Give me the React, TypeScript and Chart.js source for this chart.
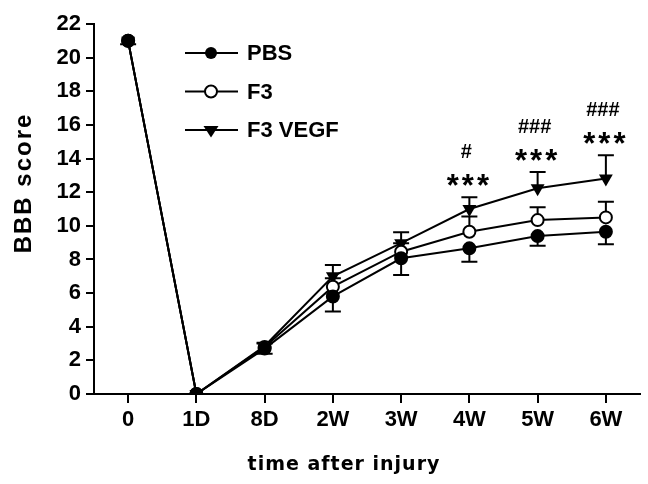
import React, { useEffect, useRef } from "react";
import { Chart, registerables } from "chart.js";

Chart.register(...registerables);

const categories = ["0", "1D", "8D", "2W", "3W", "4W", "5W", "6W"];
const pbsValues = [21, 0, 2.7, 5.8, 8.07, 8.66, 9.39, 9.65];
const f3Values = [21, 0, 2.8, 6.38, 8.46, 9.65, 10.34, 10.5];
const vegfValues = [21, 0, 2.85, 7.0, 8.97, 11.0, 12.23, 12.82];
const pbsErr = [0.2, 0, 0.3, 0.9, 1.0, 0.8, 0.57, 0.75];
const f3Err = [0, 0, 0.2, 0.5, 0.5, 0.9, 0.76, 0.93];
const vegfErr = [0, 0, 0.2, 0.67, 0.65, 0.7, 0.97, 1.38];
const starLabels = ["", "", "", "", "", "***", "***", "***"];
const hashLabels = ["", "", "", "", "", "#", "###", "###"];
const seriesNames = ["PBS", "F3", "F3 VEGF"];
const yMin = 0;
const yMax = 22;
const yStep = 2;

const FONT = '"Liberation Sans", Arial, sans-serif';

function drawMarker(ctx: CanvasRenderingContext2D, kind: number, x: number, y: number) {
  ctx.save();
  ctx.lineWidth = 2;
  ctx.strokeStyle = "#000";
  if (kind === 0) {
    ctx.beginPath();
    ctx.arc(x, y, 6, 0, Math.PI * 2);
    ctx.fillStyle = "#000";
    ctx.fill();
  } else if (kind === 1) {
    ctx.beginPath();
    ctx.arc(x, y, 6, 0, Math.PI * 2);
    ctx.fillStyle = "#fff";
    ctx.fill();
    ctx.stroke();
  } else {
    const r = 7.5;
    ctx.beginPath();
    ctx.moveTo(x - r, y - r * 0.55);
    ctx.lineTo(x + r, y - r * 0.55);
    ctx.lineTo(x, y + r);
    ctx.closePath();
    ctx.fillStyle = "#000";
    ctx.fill();
  }
  ctx.restore();
}

const overlayPlugin = {
  id: "overlay",
  beforeDatasetsDraw(chart: any) {
    const ctx: CanvasRenderingContext2D = chart.ctx;
    const xs = chart.scales.x;
    const ys = chart.scales.y;
    const sets = [
      { v: pbsValues, e: pbsErr, dir: 1 },
      { v: f3Values, e: f3Err, dir: -1 },
      { v: vegfValues, e: vegfErr, dir: -1 },
    ];
    ctx.save();
    ctx.strokeStyle = "#000";
    ctx.lineWidth = 2;
    sets.forEach((s) => {
      s.v.forEach((val, i) => {
        if (!s.e[i]) return;
        const x = xs.getPixelForValue(i);
        const y0 = ys.getPixelForValue(val);
        const y1 = ys.getPixelForValue(val - s.dir * s.e[i]);
        ctx.beginPath();
        ctx.moveTo(x, y0);
        ctx.lineTo(x, y1);
        ctx.moveTo(x - 8, y1);
        ctx.lineTo(x + 8, y1);
        ctx.stroke();
      });
    });
    ctx.restore();
  },
  afterDraw(chart: any) {
    const ctx: CanvasRenderingContext2D = chart.ctx;
    const xs = chart.scales.x;
    const ys = chart.scales.y;
    ctx.save();
    // legend
    const rows = [53, 91.5, 130];
    seriesNames.forEach((name, k) => {
      const y = rows[k];
      ctx.strokeStyle = "#000";
      ctx.lineWidth = 2;
      ctx.beginPath();
      ctx.moveTo(185, y);
      ctx.lineTo(238, y);
      ctx.stroke();
      drawMarker(ctx, k, 211, y);
      ctx.fillStyle = "#000";
      ctx.font = `bold 22px ${FONT}`;
      ctx.textAlign = "left";
      ctx.textBaseline = "middle";
      ctx.fillText(name, 247, y + 1);
    });
    // significance marks
    categories.forEach((_, i) => {
      if (!starLabels[i]) return;
      const x = xs.getPixelForValue(i);
      const capY = ys.getPixelForValue(vegfValues[i] + vegfErr[i]);
      const base = capY - 1;
      ctx.fillStyle = "#000";
      ctx.textAlign = "center";
      ctx.textBaseline = "alphabetic";
      ctx.font = `bold 31px ${FONT}`;
      (ctx as any).letterSpacing = "3px";
      ctx.fillText(starLabels[i], x, base);
      ctx.font = `bold 20px ${FONT}`;
      (ctx as any).letterSpacing = "0px";
      ctx.fillText(hashLabels[i], x - 3, base - 38);
    });
    // axis titles
    ctx.fillStyle = "#000";
    ctx.font = `bold 19px "DejaVu Sans", sans-serif`;
    ctx.textAlign = "center";
    ctx.textBaseline = "middle";
    (ctx as any).letterSpacing = "1px";
    ctx.fillText("time after injury", 344, 465);
    ctx.translate(24, 183);
    ctx.rotate(-Math.PI / 2);
    ctx.font = `bold 24px ${FONT}`;
    (ctx as any).letterSpacing = "2px";
    ctx.fillText("BBB score", 0, 0);
    ctx.restore();
  },
};

export default function App() {
  const ref = useRef<HTMLCanvasElement | null>(null);
  useEffect(() => {
    if (!ref.current) return;
    const common = {
      borderColor: "#000",
      borderWidth: 2,
      pointBorderColor: "#000",
      pointBorderWidth: 2,
      tension: 0,
    };
    const chart = new Chart(ref.current, {
      type: "line",
      data: {
        labels: categories,
        datasets: [
          {
            ...common,
            label: seriesNames[0],
            data: pbsValues,
            pointStyle: "circle",
            pointRadius: 6,
            pointBackgroundColor: "#000",
          },
          {
            ...common,
            label: seriesNames[1],
            data: f3Values,
            pointStyle: "circle",
            pointRadius: 6,
            pointBackgroundColor: "#fff",
          },
          {
            ...common,
            label: seriesNames[2],
            data: vegfValues,
            pointStyle: "triangle",
            pointRotation: 180,
            pointRadius: 8,
            pointBorderWidth: 0,
            pointBackgroundColor: "#000",
          },
        ],
      },
      options: {
        responsive: false,
        animation: false,
        devicePixelRatio: 1,
        layout: { padding: { top: 24, right: 0, left: 0, bottom: 0 } },
        plugins: { legend: { display: false }, tooltip: { enabled: false }, title: { display: false } },
        scales: {
          x: {
            type: "category",
            offset: true,
            grid: { offset: false, drawOnChartArea: false, drawTicks: true, tickLength: 9, color: "#000", lineWidth: 2 },
            border: { display: true, color: "#000", width: 2 },
            ticks: {
              color: "#000",
              font: { family: FONT, size: 22, weight: "bold" },
              padding: 4,
              maxRotation: 0,
              autoSkip: false,
            },
            afterFit: (s: any) => {
              s.height = 90;
            },
          },
          y: {
            min: yMin,
            max: yMax,
            grid: { drawOnChartArea: false, drawTicks: true, tickLength: 8, color: "#000", lineWidth: 2 },
            border: { display: true, color: "#000", width: 2 },
            ticks: {
              stepSize: yStep,
              color: "#000",
              font: { family: FONT, size: 22, weight: "bold" },
              padding: 5,
            },
            afterFit: (s: any) => {
              s.width = 94;
            },
          },
        },
      },
      plugins: [overlayPlugin],
    } as any);
    return () => chart.destroy();
  }, []);
  return (
    <div style={{ position: "absolute", left: 0, top: 0, width: 648, height: 484, background: "#fff" }}>
      <canvas ref={ref} width={648} height={484} />
    </div>
  );
}
